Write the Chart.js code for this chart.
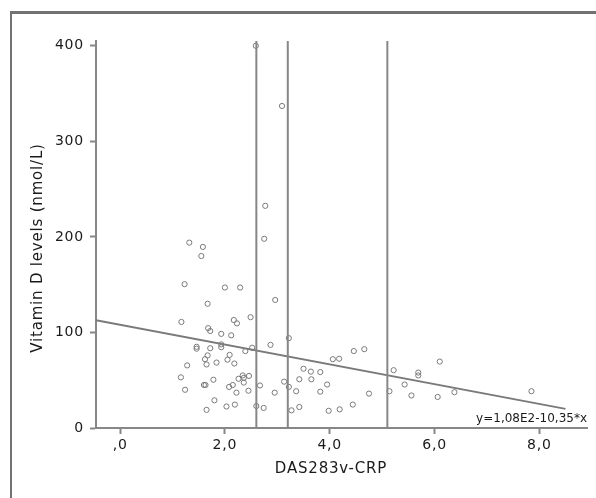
<!DOCTYPE html>
<html>
<head>
<meta charset="utf-8">
<script src="https://cdn.jsdelivr.net/npm/chart.js@4.4.1/dist/chart.umd.min.js"></script>
<style>
  body { margin: 0; background: #fff; }
  #wrap { position: relative; width: 596px; height: 498px; overflow: hidden; }
  #frame { position: absolute; left: 10px; top: 11px; width: 600px; height: 500px;
           border-left: 2px solid #727272; border-top: 3px solid #727272; }
  #chart { position: absolute; left: 0; top: 0; }
</style>
</head>
<body>
<div id="wrap">
  <div id="frame"></div>
  <canvas id="chart" width="596" height="498"></canvas>
</div>
<script>
// DAS28-CRP score per patient
const das28 = [1.23, 2.00, 2.29, 1.67, 2.96, 1.17, 2.17, 2.23, 2.49, 1.68,
               1.72, 1.93, 2.12, 2.87, 1.46, 1.46, 1.72, 1.93, 1.93, 2.39,
               2.52, 1.67, 1.62, 2.09, 2.05, 1.65, 1.84, 2.18, 1.28, 1.16,
               1.24, 1.60, 1.63, 1.78, 2.08, 2.15, 2.26, 2.34, 2.36, 2.46,
               2.36, 2.22, 2.45, 2.67, 2.95, 3.13, 1.80, 1.65, 2.03, 2.19,
               2.60, 2.74, 3.22, 3.22, 3.36, 3.42, 3.50, 3.64, 3.65, 3.82,
               3.82, 3.95, 4.06, 4.18, 4.46, 4.66, 4.75, 3.27, 3.42, 3.98,
               4.19, 4.44, 5.14, 5.22, 5.43, 5.56, 5.69, 5.69, 6.06, 6.10,
               6.38, 7.85, 1.32, 1.58, 1.55, 2.77, 2.75, 2.59, 3.09];
// vitamin D (nmol/L) per patient, same order
const vitD = [150.5, 147, 147, 130, 134, 111, 113, 109.5, 116, 104.5,
              101.5, 98.5, 97, 87, 85, 83, 83.5, 87.5, 84.5, 80.5,
              84, 76, 72, 76.5, 71.5, 66.5, 68.5, 67.5, 65.5, 53,
              40, 45, 45, 50.5, 43, 45, 51.5, 55, 52.5, 54.5,
              47.5, 37, 39, 44.5, 37, 48.5, 29, 19, 22.5, 24.5,
              23, 21, 94, 43, 38.5, 51, 62, 59, 51, 58.5,
              38, 45.5, 72, 72.5, 80.5, 82.5, 36, 18.5, 22, 18,
              19.5, 24.5, 38.5, 60.5, 45.5, 34, 58, 55, 32.5, 69.5,
              37.5, 38.5, 194, 189.5, 180, 232.5, 198, 400, 337];

// DAS28 activity cut-offs (remission / low / high)
const cutoffs = [2.6, 3.2, 5.1];

// fit line y = 1,08E2 - 10,35*x
const intercept = 108;
const slope = -10.35;
const fitRange = [-0.46, 8.5];
const fitLabel = 'y=1,08E2-10,35*x';

const xTicks = [0, 2, 4, 6, 8];
const xTickLabels = [',0', '2,0', '4,0', '6,0', '8,0'];
const yTicks = [0, 100, 200, 300, 400];

const xTitle = 'DAS283v-CRP';
const yTitle = 'Vitamin D levels (nmol/L)';

const grey = '#878787';
const textCol = '#1a1a1a';
const font = 'DejaVu Sans';

const points = das28.map((x, i) => ({ x: x, y: vitD[i] }));

const datasets = cutoffs.map(c => ({
    type: 'line',
    data: [{ x: c, y: 0 }, { x: c, y: 405 }],
    borderColor: grey,
    borderWidth: 2,
    pointRadius: 0
}));

datasets.push({
    type: 'line',
    data: fitRange.map(x => ({ x: x, y: intercept + slope * x })),
    borderColor: '#7a7a7a',
    borderWidth: 1.8,
    pointRadius: 0
});

datasets.push({
    type: 'scatter',
    data: points,
    pointStyle: 'circle',
    pointRadius: 2.6,
    borderWidth: 1,
    borderColor: '#7a7a7a',
    backgroundColor: 'rgba(0,0,0,0)'
});

// titles, equation and letter spacing
const textPlugin = {
    id: 'textPlugin',
    beforeDraw(chart) {
        chart.ctx.letterSpacing = '0.8px';
    },
    afterDraw(chart) {
        const ctx = chart.ctx;
        const area = chart.chartArea;
        ctx.save();
        ctx.fillStyle = textCol;
        ctx.font = '15px "' + font + '"';
        ctx.letterSpacing = '0.8px';
        ctx.textAlign = 'center';
        ctx.textBaseline = 'middle';
        ctx.fillText(xTitle, 331, 469);

        ctx.translate(38, 248);
        ctx.rotate(-Math.PI / 2);
        ctx.fillText(yTitle, 0, 0);
        ctx.restore();

        ctx.save();
        ctx.fillStyle = textCol;
        ctx.font = '12px "' + font + '"';
        ctx.letterSpacing = '0px';
        ctx.textAlign = 'right';
        ctx.textBaseline = 'middle';
        ctx.fillText(fitLabel, area.right, area.bottom - 9);
        ctx.restore();
    }
};

new Chart(document.getElementById('chart'), {
    type: 'scatter',
    data: { datasets: datasets },
    plugins: [textPlugin],
    options: {
        responsive: false,
        animation: false,
        devicePixelRatio: 1,
        layout: { padding: { left: 26, top: 41, right: 9, bottom: 10 } },
        plugins: {
            legend: { display: false },
            tooltip: { enabled: false }
        },
        scales: {
            x: {
                type: 'linear',
                min: -0.46,
                max: 8.91,
                afterBuildTicks: s => { s.ticks = xTicks.map(v => ({ value: v })); },
                afterFit: s => { s.height = 60; },
                grid: { drawOnChartArea: false, tickLength: 6, tickColor: grey, tickWidth: 2 },
                border: { color: grey, width: 2 },
                ticks: {
                    color: textCol,
                    padding: 3,
                    maxRotation: 0,
                    font: { family: font, size: 14 },
                    callback: (v, i) => xTickLabels[i]
                }
            },
            y: {
                type: 'linear',
                min: 0,
                max: 405,
                afterBuildTicks: s => { s.ticks = yTicks.map(v => ({ value: v })); },
                afterFit: s => { s.width = 70; },
                grid: { drawOnChartArea: false, tickLength: 6, tickColor: grey, tickWidth: 2 },
                border: { color: grey, width: 2 },
                ticks: {
                    color: textCol,
                    padding: 6,
                    font: { family: font, size: 14 },
                    callback: v => String(v)
                }
            }
        }
    }
});
</script>
</body>
</html>
